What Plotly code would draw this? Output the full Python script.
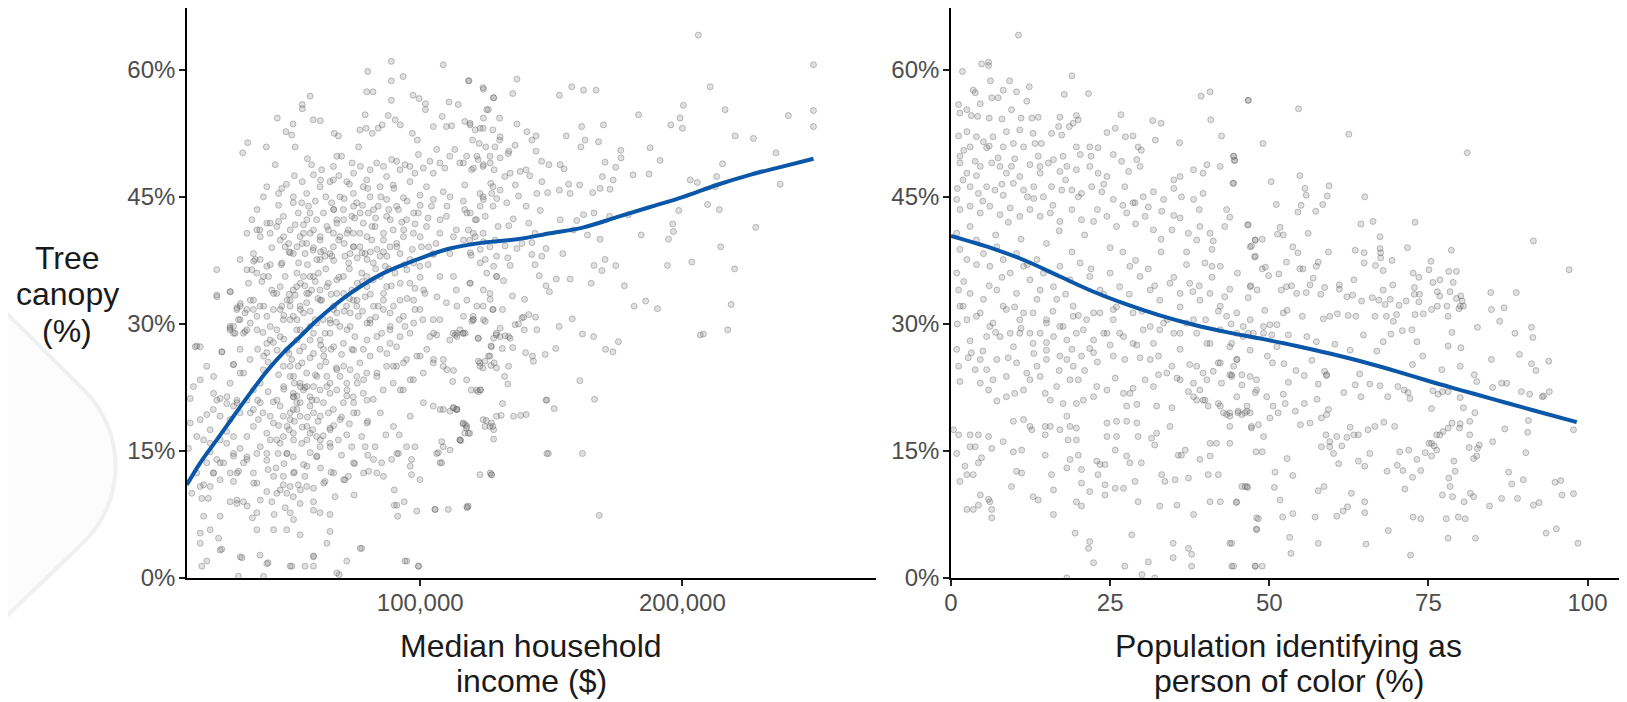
import plotly.graph_objects as go

# ---------------- DATA ----------------
# Left panel: (median household income in $1000s, tree canopy %)
income_points = [
 (89,61),(108.8,60.6),(80,59.8),(89,58.7),(93.5,59.2),(118.6,58.7),(58,56.9),(55,55.9),(55,55.4),(79.6,57.4),
 (82,57.4),(89,56.4),(97.3,57),(99.6,56.6),(102,56),(102,55.3),(111,56.2),(114.5,55.9),(124,57.9),(128,56.7),
 (126,55.3),(45.5,54.3),(59.2,54.1),(61.9,54),(51.5,53.6),(34.2,51.4),(32.3,50.2),(41.3,50.9),(48.8,52.7),(51,52.3),
 (52.3,50.9),(67.2,52.5),(68.8,52.2),(79,54.7),(87.8,54.6),(90.5,54.1),(77,52.9),(79.4,53.1),(81.7,52.5),(84,53.1),
 (85.5,53.5),(92.4,53.5),(97,52.5),(98.9,51.7),(105,53.3),(108.4,54.5),(110,53.3),(112,53.4),(117,53.9),(119,53.5),
 (121,52.9),(124,53.1),(120,51.7),(122.5,51.3),(125,50.9),
 (44.7,48.8),(46,45.4),(47.2,46.0),(51.6,45.0),(54.8,44.3),(56.7,45.4),(58.6,48.8),(59.3,47.6),(62.4,48.2),(65.6,46.8),
 (66.9,48.6),(68.2,49.8),(70,49.8),(74,49),(74.6,47.8),(76.5,50.9),(77.2,48.6),(79.6,47),(80.9,48.2),(83.4,49),
 (86,48.6),(87.2,47.4),(89.1,49.4),(91,49.2),(92.3,48.2),(94.2,48.8),(96.1,48.6),(98,47.8),(99.3,50),(101.2,48.4),
 (103.7,49.2),(105,47.8),(106.3,50.6),(107.5,49),(109.4,48.4),(111.3,49.8),(113.2,50.6),(115.1,49),(117.7,49.8),(119.6,48.2),
 (122.1,49.4),(124,48.6),(126.6,49.8),(128.5,50.9),(66.9,47),(72,46.8),(78.3,46.2),(84.7,46.2),(89.7,46.4),(96.1,46.8),
 (102.4,46.2),(108.8,45.6),(117,46.4),(122.8,45.4),(127.8,46.2),(61.8,46.2),(69.4,45.0),(74.5,45.4),(80.9,45),(87.2,44.7),
 (93.6,44.9),(99.9,45.2),(105,44.7),(111.4,45),(124,45),
 (37.7,41.1),(39,40.3),(41.5,41.9),(42.8,40.7),(43.4,39),(45.3,41.5),(46.6,39.9),(47.8,42.7),(48.5,39.1),(50.4,41.1),
 (51.6,44.3),(51.6,38.3),(53.5,43.1),(54.2,40.3),(55.5,41.7),(56.1,38.3),(57.4,43.9),(58,40.7),(59.3,39),(60.5,42.3),
 (61.8,39.9),(63.1,43.1),(63.7,38),(65,41.1),(66.2,44.3),(66.9,39.1),(68.2,42.3),(69.4,40.3),(70.7,43.5),(71.3,38),
 (72.6,41.1),(73.9,42.7),(74.5,39.1),(75.8,44.3),(77,40.7),(78.3,41.9),(79,38.3),(80.2,43.1),(81.5,39.9),(82.8,41.5),
 (84,43.9),(84.7,38),(86,40.7),(87.2,42.7),(88.5,39.1),(89.7,41.1),(91,43.9),(92.3,38.3),(93.6,40.3),(94.8,42.3),
 (96.1,37.6),(97.4,40.7),(99.3,43.1),(100.5,39.1),(102.4,41.5),(104.3,43.9),(104.9,38.3),(107.5,40.7),(110,42.7),(111.3,38.3),
 (113.8,41.1),(117,43.5),(118.9,39.9),(121.5,42.3),(124,40.7),(126.6,39.1),(127.8,43.9),(129.1,38),(56.7,39.5),(61.8,37.6),
 (65.6,38.3),(73.3,38.3),(82.1,37.2),(66.9,40.7),(77,39.1),(59.3,41.1),(74.5,40.7),
 (22.4,36.4),(22.4,33.4),(27.5,33.8),(30.1,31.9),(31.3,32.1),(27.5,29.5),(28.8,28.9),(33.2,29.1),(35.2,30.1),(37.1,37.6),
 (37.7,36),(40.2,35.6),(41.5,36.8),(43.4,34),(45.3,33.6),(47.2,32.1),(48.5,35.6),(50.4,32.8),(51.6,30.9),(52.9,34.4),
 (54.2,29.3),(55.5,35.6),(56.7,32.5),(58.6,34),(59.9,30.5),(61.2,36),(62.4,32.8),(63.7,28.9),(65,34.8),(66.9,31.7),
 (68.2,33.6),(69.4,29.7),(70.7,35.6),(71.9,32.1),(73.9,34),(75.1,28.5),(76.4,30.9),(77.7,36),(79,33.2),(80.9,30.1),
 (82.1,35.2),(84,32.1),(85.3,28.9),(87.2,34.4),(88.5,31.3),(90.4,36),(92.3,32.8),(94.2,29.7),(96.1,34.8),(98,31.7),
 (99.9,36.8),(101.8,33.6),(105,30.5),(107.5,35.6),(110,32.5),(113.8,34),(115.1,29.3),(118.9,34.8),(120.2,30.9),(124,32.1),
 (126.6,33.6),(129.1,28.9),(129.1,35.6),(51.6,34),(54.2,32.1),(56.7,33.6),(59.3,28.9),(61.8,34),(65.6,30.5),(58,35.6),
 (74.5,32.8),(79.6,35.6),
 (14.8,27.4),(24.3,26.7),(28.8,25.2),(31.3,24.2),(27.5,23),(23.7,21.2),(18.6,19.3),(12.3,18.3),(12.3,21.2),(19.9,17.5),
 (26.2,17.3),(28.8,16.7),(23.7,16.3),(17.4,16.3),(11.6,15.3),(19.9,14.9),(22.4,14),(21.1,12.4),(17.4,11),(12.9,10),
 (16.7,9.4),(19.2,9.4),(17.4,7.3),(16.1,5.3),(19.9,5.7),(23.1,4.7),(16.1,4.1),(24.3,3.4),(18.6,2),(16.7,1.4),
 (27.5,12.4),(28.8,11.4),(30.7,12.6),(32.6,13.6),(27.5,9.0),(30.1,9.2),(32.6,9.0),(34,8.5),(36,7.1),(37.7,5.7),
 (32,2.4),(38.9,2.7),(42,1.8),(30.7,0.2),(40.2,0.2),
 (33.9,21),(36.4,22.2),(39,23),(40.2,24.6),(41.5,26.6),(42.8,28.1),(45.3,29.3),(36.4,19.9),(38.3,18.7),(36.4,17.9),
 (41.5,17.1),(39,15.5),(37.7,14.7),(33.9,14.3),(41.5,13.9),(36.4,12.4),(37.7,11.2),(41.5,10.2),(43.4,9),(45.3,10),
 (47.8,11),(49.1,10),(51.6,9.6),(54.2,8.8),(59.3,9),(48.5,8.3),(50.4,7.7),(44.3,7.5),(49.1,5.7),(54.2,5.1),
 (59.3,2.6),(56.1,1.4),(51,1.4),(59.3,1.4),(61.8,7.7),(65.6,7.5),(65.6,5.5),(64.4,4.1),(69.1,0.4),(72,2),
 (77.7,3.5),(94.2,2),(99.3,1.4),(91.4,7.3),(93.9,9),(90.1,8.6),(98.7,7.9),(105.6,8.1),(110.7,8.1),(118.3,8.5),
 (90.1,10.4),(99.9,11.6),(96.7,12.2),(98,15.5),(94.8,15.5),(96.7,14),(91.7,14.7),(89.1,14),(85.3,13.6),(80.3,12.6),
 (83.5,12.4),(72.6,12),(71.3,11.6),(74.8,9.8),(67.5,9.6),(63.7,11.4),(59.3,10.6),(56.7,10.8),(53.5,11),(50.4,10.8),
 (47.8,12),(45.8,14.7),(49.1,14.7),(51.6,14.3),(55.5,13.4),(60.5,14.3),(61.8,15.5),(65.6,15.9),(68.8,16.3),(72,16.9),
 (77.7,16.7),(86.9,16.9),(92,16.9),(82.8,15.5),(79,15.5),(73.9,15.5),(65.6,17.7),(60.5,16.7),(58,17.1),(54.8,15.9),
 (51.6,17.1),(47.8,16.7),(45.3,16.3),(44,18.3),(47.8,19.1),(51.6,19.9),(54.2,20.7),(58,21.4),(61.8,22.2),(65.6,23),
 (69.4,23.8),(73.3,24.6),(77,25.4),(80.9,26.2),(84.7,27),(88.5,27.7),(92.3,28.5),(51.6,21.4),(54.2,19.1),(59.3,19.5),
 (63.1,20.7),(66.9,19.9),(70.7,20.7),(74.5,21.4),(78.3,21.8),(82.1,21.1),(85.9,22.2),(89.7,23),(93.5,22.2),(97.4,23.4),
 (101.2,24.2),(105,25.4),(108.8,25.8),(101.2,20.7),(105,20.3),(108.8,19.9),(113.9,19.9),(112.6,20.1),(116.4,18.3),(118.9,17.1),
 (108.8,15.5),(106.3,14.7),(108.2,13.6),(115.1,16.3),(121.5,22.2),(124,18.7),(122.8,12.2),(126.6,17.9),(129.1,19.1),
 (47.8,25),(50.4,23.8),(51.6,21.8),(54.2,23),(56.7,24.2),(59.3,22.6),(61.8,25),(64.4,23.8),(50.4,19.5),(52.9,20.7),
 (55.5,22.2),(58,20.3),(51,25.8),(53.5,25),(60.5,21.0),(65.6,21.8),(68.2,22.2),(72,23),(75.8,23.8),(79.6,24.2),
 (83.5,23.8),(87.2,25),(91,25),(94.8,25.8),(98.7,26.2),(102.5,27),
 (38.9,32.1),(41.5,30.9),(44,31.7),(47.8,30.5),(50.4,32.1),(52.9,29.3),(55.5,31.3),(58,28.1),(60.5,30.1),(63.1,27),
 (65.6,28.9),(68.2,31.3),(70.7,27.7),(73.3,29.7),(75.8,32.1),(78.3,27),(80.9,30.5),(83.5,28.5),(86,31.7),(88.5,29.3),
 (91,27.3),(93.6,30.9),(96.1,28.9),(99.9,31.7),(103.7,28.5),(107.5,30.5),(111.3,28.1),(116.4,28.9),(120.2,30.5),(122.8,25.4),
 (126.6,26.2),(130.4,28.5),(127.8,31.7),(93.6,25.4),(108.8,25),(117.7,23.4),
 (206.1,64.1),(250,60.6),(210.6,58),(216.3,55.3),(200.4,55.8),(199.1,54.3),(200,53.1),(195.6,53.5),(183.3,54.7),(250,55.2),
 (250,53.3),(240.4,54.6),(220.1,52.2),(227.1,51.9),(235.7,50.2),(237.3,46.5),(118.4,58.7),(136.9,58.9),(124.1,57.7),(135.3,57.2),
 (128,56.7),(153.1,57),(157.8,58),(162.3,57.6),(167.1,57.6),(125.4,55.3),(130.3,54.3),(136.9,53.6),(124.1,54.3),(119,53.7),
 (122.9,53.1),(127.7,52.9),(140.7,52.7),(144.2,52.2),(130.5,52.1),(136.2,51.1),(133.8,50.4),(155.7,52.2),(161.6,53.3),(169.9,53.5),
 (168,51.5),(162.9,51.7),(161.3,50.9),(176.5,50.5),(187.7,50.8),(191.5,49.3),(170.5,49.1),(176.6,49.6),(174.6,48.5),(181.2,47.6),
 (187.3,47.7),(169.5,47.4),(173.6,47),(172.4,45.9),(168.6,46),(165.8,45.5),(153.1,45.8),(156.6,46.5),(160.8,46.4),(157.2,45.4),
 (162.3,42.9),(159.7,42.2),(153.4,42.3),(158.5,41.1),(163.8,40.5),(168.6,40),(166.3,43.1),(172.2,42.7),(179.4,42.9),(184.3,40.5),
 (194.7,40),(196.6,40.9),(196.3,41.8),(198.6,43.4),(203,47),(205.7,46.7),(213.1,47.4),(215.3,48.9),(209.6,44.1),(214.1,43.5),
 (212.5,46.2),(228,41.4),(214.6,39.1),(203.6,37.3),(194.3,36.9),(219.9,36.5),(218.6,32.3),(217.3,29.3),(208,28.8),(190.5,31.8),
 (186,32.7),(181.6,32.1),(177.9,34.5),(174.6,36.9),(170.5,37.6),(166.3,36.9),(169.3,36.3),(165.2,34.8),(154.4,38.3),(148,38.9),
 (146.4,38),(142.6,38.2),(143.8,37),(145.4,35.7),(148,34.5),(149.3,33.8),(151.9,35.3),(157.2,35.3),(153,29.7),(158,30.6),
 (161.9,28.8),(166.1,28.5),(175.6,27.9),(141.4,31.1),(139.8,32.9),(135.2,33.3),(131.8,35.1),(133.4,37.8),(134.3,36.9),(128,36.8),
 (124.8,37.6),(119.4,38.1),(121,40.3),(124.1,39.7),(128.6,39.9),(132.4,39.2),(136.9,38.9),(138.8,39.5),(142.6,39.6),(143.8,40.7),
 (141.4,41.9),(135.5,42.4),(133.8,41.6),(129.7,41.5),(124.8,42.7),(121,42.3),(119.1,43.1),(116.5,44.5),(124.1,44.7),(127.3,45.4),
 (130.5,45.8),(137.5,45.1),(140.4,43.9),(145.8,43.4),(144.5,45.4),(148.6,45.5),(146.4,46.8),(141.8,47.5),(138.1,48),(134.3,47.8),
 (132.3,47.4),(128.2,48.2),(124.1,48.8),(120.3,48.4),(116.5,49),(121.6,49.8),(126.7,49),(130.5,49.6),(133.6,50.1),(144.2,50.4),
 (149.1,48.8),(153.4,48.8),(154.9,48.3),(146.3,49.2),(140.4,48.2),(142.6,51.7),(130.3,51.7),(136.3,46.4),(126.9,46.6),(129.2,44.8),
 (133,44.3),(122.9,43.9),(118.4,41.1),(116.5,39.9),(119.1,38.4),(122.9,37.2),(125.4,36),(129.2,35.6),(119.1,34.8),(124.1,34),
 (126.7,32.9),(121.6,32.1),(116.5,30.9),(124.1,30.5),(130.5,29.5),(128,28.3),(133.7,28.5),(114,28.5),(117.2,28.9),(138.8,30.7),
 (136.2,29.9),(144.5,29.3),
 (119.7,30.3),(124.8,30.3),(127.7,31.7),(131.4,31.7),(114,32.1),(113.3,28.7),(122.2,28.3),(127,27.4),(129,28.7),(132.4,28.6),
 (134.3,28.3),(131.3,27.1),(135.3,27.2),(139.4,30.8),(144,30.8),(137.5,30),(139.7,29.3),(140.2,26.6),(142.8,26.2),(143.2,25.6),
 (147.7,26.4),(151.7,27.1),(170.7,27),(173.5,26.7),(206.8,28.7),(122.2,25.6),(123.9,24.8),(127,25.1),(128.2,25.4),(133.7,25),
 (126.1,26.2),(112.7,24.5),(132.2,23.8),(133.4,22.9),(123,22.2),(148,21.0),(151.1,20),(160.9,23.3),(166.5,21.1),(131.4,20.6),
 (130.9,19.2),(138.3,19.2),(140.4,19.3),(125.2,18.6),(127.7,17.9),(117.2,18.1),(118.4,17.1),(115.5,16.2),(128,16.4),(111.4,19.7),
 (114,19.9),(148.9,14.7),(161.9,14.7),(127.2,12.2),(118,8.3),(168.3,7.4),(111.4,15.1),
 (106.3,28.7),(112.6,28.9),(116.4,28.9),(122.1,28.3),(127.2,27.3),(124.7,25.6),(122.8,25),(129.1,24.8),(112.4,23.2),(119.5,22.2),
 (122.1,22),(127.2,18.3),(124.7,17.9),(117,17.1),(115.2,16.3),(108.2,16.1),(106.9,14.8),(107.6,13.6),(116.3,18.2),(117.6,17.7),
 (127.2,12.2),
 (27.5,29.7),(29.4,28.9),(31.3,30.5),(33.9,29.3),(36.4,31.7),(31.3,27),(35.1,25.8),(30.1,31.7),(33.2,31.3),
 (13.5,22.6),(16.1,23.4),(18.6,25),(21.2,23.8),(22.4,21),(26.2,20.6),(28.8,20.3),(31.3,19.5),(30.1,21),(27.5,18.7),
 (23.7,19.1),(21.1,19.9),(16.1,18.7),(14.8,16.7),(19.9,15.9),(26.2,15.9),(31.3,15.3),(33.9,16.7),(28.8,14.4),(23.7,13.6),
 (18.6,13.6),(14.8,12.4),(23.7,11.6),(19.9,10.8),
 (31.3,37.6),(33.9,36.4),(36.4,38.3),(34.5,34.8),(36.4,32.8),(30.7,30.5),(33.9,31.7),(27.5,29.3),(16.1,27.3),(33.9,40.7),
 (35.8,42.3),(37.8,43.5),(40.2,45.0),(41.5,46.2),
 (46,44),(49,46.5),(52,47.5),(55,46.8),(57,49.5),(60,44.5),(62,47),(64,45),(67,43.5),(69,47.5),
 (71,44.8),(73,46.5),(75,42.5),(78,44),(80,46),(83,42.5),(85,45),(88,43.5),(90,46),(93,42),
 (95,44.5),(98,41.8),(100,44),(103,42.5),
 (47,37),(50,38.5),(53,36),(55,39.5),(57,37),(60,35),(62,38.5),(64,36.5),(67,37.5),(69,35.5),
 (71,39.5),(73,36.5),(76,37.8),(78,35),(81,38.5),(83,36.5),(86,38.5),(88,36.5),(91,39.5),(94,37),
 (97,38.8),(100,35.5),(103,37),(106,39.5),
 (48,31),(50,33.5),(53,30.5),(56,34.5),(58,31.5),(61,33),(63,30.5),(66,33.5),(68,30.2),(71,31.5),
 (73,33),(76,34.8),(78,31.5),(81,33.5),(83,30.8),(86,32.8),(89,34.5),(92,30.5),(95,33),(98,34.2),
 (101,30.5),
 (38,27),(40,29),(42,25.5),(44,27.8),(46,24),(48,28.2),(50,26.5),(52,23),(54,26.8),(56,22.5),
 (58,26),(60,24),(62,27.5),(64,25.5),(66,27),(68,24.8),(70,26.4),(72,21.5),(74,27),(76,23),
 (38,21),(40,19.5),(42,22),(44,20.8),(46,18),(48,22.3),(50,17.5),(52,18.5),(53,21.5),(55,17.8),
 (57,19),(59,17.5),(61,18.5),(63,16.8),(65,19.5),(67,18),(70,19),(73,18.2),(76,19.5),(80,18.5),
 (42,12.8),(45,13),(48,13.5),(52,12.5),(56,12),(58,14.8),(62,13),(66,12.5),(70,14.5),(75,13.5),
 (80,14.5),
 (42.8,41.9),(46,42.1),(38.8,41.1),(36.5,37.4),(39,37.6),(42.8,37),(47.3,37.2),(49.8,39.5),(52.3,41.7),(55.5,40.7),
 (56.8,42.3),(59.1,38.7),(61.9,40.3),(64.4,41.5),(67,43.5),(68.9,39.9),(70.8,42.3),(72.1,40.7),(74.6,39.1),(77.1,43.1),
 (79.7,40.3),(81.6,41.5),(83.5,38.8),(86,39.9),(88.6,42.3),(91.1,39.1),(93.7,41.1),(97.5,43.1),(100,40.3),(103.2,39.1),
 (107.6,42.3),(110.2,43.9),(112.7,40.3),(117.8,43.1),(120.3,40.7),(122.9,38.8),(50.4,38.4),(53.6,37.2),(60.6,37.6),(66.3,38),
 (72.7,37.2),(79.7,37.6),(86.7,36.8),(97.5,37.2),(105.1,38.2),
 (22.5,33.2),(27.6,33.8),(31.4,32.4),(35.2,32.8),(37.7,30.9),(35.8,36.4),(39.6,35),(42.2,35.6),(44.1,33.6),(46.6,34.4),
 (49.2,32.8),(46.6,31.7),(52.3,33.4),(54.3,34.8),(57.4,33.6),(59.3,35.6),(61.9,32.8),(64.4,34.4),(67,32.1),(70.8,33.6),
 (73.3,31.3),(75.9,32.8),(79.7,34.4),(82.2,32.1),(86,33.6),(89.8,32.1),(92.4,34.8),(97.5,32.8),(101.3,34),(106.4,33.2),
 (112.7,35.6),(117.8,32.8),(28.8,29.7),(32.6,28.9),(37.7,29.3),(42.8,29.7),(50.4,30.5),(58,29.7),(65.7,30.1),(72.1,29.3),
 (79.7,30.1),(88.6,29.7),(97.5,30.1),(105.1,28.9),(114,28.9),(120.3,30.5),(40.3,32.1),(54.3,31.7),(68.2,35.2),(84.8,35.6),
 (94.9,36.4),
 (14.2,27.3),(24.4,26.7),(28.8,25.2),(32.6,24.2),(40.3,26.2),(41.5,27.7),(45.4,26.9),(50.4,25),(51.7,23.8),(54.9,25.4),
 (56.8,22.6),(58.7,21),(60.6,23.8),(63.2,26.2),(64.4,22.6),(68.2,24.6),(70.8,25),(72.1,22.2),(74.6,20.7),(78.4,23.4),
 (79.7,21),(83.5,24.2),(87.3,26.5),(89.8,25),(92.4,22.2),(96.2,23.4),(100,26.2),(105.1,25.8),(110.2,24.6),(114,19.9),
 (117.8,17.9),(21.2,21.8),(26.3,21.4),(30.1,20.7),(35.2,19.5),(39,20.7),(42.8,19.1),(46.6,20.3),(50.4,18.7),(53,19.9),
 (56.8,17.9),(61.9,19.1),(65.7,17.5),(69.5,18.7),(74.6,19.5),(79.7,18.3),(84.8,19.5),(89.8,17.9),(96.2,19.1),(107.6,19.9),
 (112.7,20.1),(128,17.5),(122.9,22.2),(148.3,21),(135.6,19.1),
 (16.1,10.8),(21.2,12.4),(25,13.6),(28.8,14.7),(30.1,12.4),(33.9,14),(36.5,11.2),(39,9.2),(41.5,14.7),(44.1,12),
 (46.6,10.4),(49.2,14.7),(51.7,12.4),(54.3,10.4),(56.8,13.2),(60.6,14.4),(63.2,11.2),(67,12.4),(70.8,11.6),(74.6,13.6),
 (78.4,12.4),(82.2,14),(86,12),(91.1,14.7),(96.2,13.2),(23.7,7.3),(30.1,8.8),(37.7,7.7),(44.1,5.7),(51.7,6.9),
 (59.3,8),(23.7,3.3),(31.4,2.5),(41.5,1.7),(50.4,1.4),(59.3,2.5),(68.2,0.6),(77.1,3.5),(94.9,2),(99.4,1.4),
 (91.1,8.6),(105.7,8.1),(117.8,8.4),(126.7,12.4),(148.3,14.7),
 (47.9,40.3),(53,39.1),(58,43.1),(63.2,38.7),(68.2,41.9),(74.6,43.9),(77.8,38.4),(82.2,43.5),(87.3,38),(91.7,43.5),
 (46.6,28.5),(49.2,26.9),(53,28.1),(55.5,27.3),(59.3,26.5),(61.9,28.1),(67,27.3),(74.6,26.9),(79.7,28.1),(51.7,21.4),
 (54.3,22.6),(47.9,22.6),(45.4,21),(49.2,17.9),(51.7,16.3),(56.8,16.3),(61.9,16.3),(65.7,15.5),(46.6,15.9),(42.8,16.3),
]

# Left panel smooth fit: income ($1000s), canopy %
fit_income = [11, 16.1, 22.4, 28.8, 35.1, 41.5, 47.8, 54.2, 60.5, 73.3, 86, 98.7, 111.3, 124,
              136.9, 149.6, 162.3, 175, 187.7, 200.4, 213.1, 225.8, 238.5, 250]
fit_income_canopy = [11.0, 13.6, 16.3, 19.1, 21.8, 24.4, 26.6, 28.5, 30.4, 33.6, 36.0, 37.6, 38.9, 39.6,
                     40.0, 40.7, 41.4, 42.6, 43.8, 45.0, 46.4, 47.6, 48.6, 49.5]

# Right panel: (population identifying as person of color %, tree canopy %)
poc_points = [
 (10.6,64.1),(4.8,60.7),(5.9,60.9),(5.9,60.5),(1.8,59.8),(6.2,58.7),(9.2,58.7),(19,59.3),(3.5,57.6),(3.8,57.3),
 (8.2,57.6),(10.3,57.4),(12.3,58),(17.8,57.1),(21.6,57.2),(1.2,55.9),(1.4,54.9),(2.5,55.3),(4.6,56),(6.4,56.7),
 (7.4,56.7),(11.9,56.3),(9.5,55.3),(3.2,54.6),(4.2,54.5),(6,54.3),(8,54.2),(11,54.3),(12.7,54.3),(13.7,54.4),
 (17.1,54.4),(19.7,54.6),(20,54.1),(26.7,54.7),(31.7,54),(33,53.7),(39.3,56.9),(40.7,57.4),(40.8,54.1),(46.7,56.4),
 (16.9,53.3),(18.6,53.3),(19.2,53.7),(24.5,52.6),(25.8,53.1),(27.4,52.1),(28.6,52.2),(32.1,51.7),(35.9,51.4),(42.5,52.2),
 (1.2,52.2),(2.5,52.7),(4.0,52.1),(5.1,51.5),(6.6,52.1),(8.7,52.7),(10.8,52.9),(12.9,52.5),(14.2,51.3),(15.8,52.5),
 (17.4,52.3),(19.7,50.9),(21.8,50.9),(23.1,50.8),(25.5,50),(29.4,50.9),(29.9,50.5),(13.7,49.8),(16.1,49.4),(17.6,49.8),
 (20.3,50),(8.2,50.9),(9.8,51.3),(11.4,50.9),(13.2,51.3),(5.6,50.8),(3,50.9),(1.4,49.8),(1.4,49),(2.5,47.8),
 (3.8,49.2),(4.6,48.6),(6.4,49),(7.4,49.6),(7.7,48.6),(8.7,47.8),(9.5,48.6),(10.8,47.4),(12.4,48.8),(14,47.8),
 (15.3,49),(17.1,48),(18.2,48.6),(19.7,48.2),(21.8,48.6),(23.1,47.8),(24.5,47.4),(26.8,49.2),(27.9,48),(29.2,49.4),
 (29.7,48.6),(35,47),(36,47.4),(38.1,48.2),(39.6,47.8),(40.2,48.8),(42.3,48.6),(44.4,49.8),(44.6,49.3),(44.4,46.6),
 (43.3,43.5),(46.7,41.7),(47,39.1),(47.8,39.9),(47.8,38),(47,34.4),(46.7,33.1),(47.5,28.9),
 (1.9,47),(3,46.2),(4.3,45.4),(5.6,46.2),(6.9,45.8),(8.2,45.2),(9.8,46.6),(11.4,45.8),(13,46.2),(14.5,45),
 (15.8,46.2),(17.4,45.8),(19,45.8),(20.5,45.4),(22.1,46.2),(23.7,45.6),(25.5,44.7),(27.3,46.2),(28.6,44.3),(30.2,45),
 (31.8,45.6),(33.4,44.7),(35,46),(36.2,45),(38.1,44.7),(39.6,45.4),(0.9,44.7),(1.4,43.5),(3,43.9),(4.6,43.1),
 (6.1,43.9),(7.7,42.9),(9.3,43.7),(10.8,42.7),(12.4,43.5),(14,42.7),(15.6,43.1),(17.1,42.1),(19,43.5),(20.5,42.3),
 (22.4,42.1),(24.5,42.7),(26,41.5),(27.6,43.1),(28.9,44.3),(30.5,42.7),(31.8,41.1),(33.1,43.3),(34.7,41.1),(36,42.5),
 (37.3,40.7),(39.1,41.5),(40.7,40.7),(38.6,39.9),(41.2,39.8),(39.9,37.2),(41,36.8),(42.3,36.8),
 (0.9,40.7),(1.4,38.8),(2.5,37.6),(4,39.9),(5.1,38.3),(6.1,36.8),(7.2,39.1),(8.2,37.6),(9.3,36),(10.3,38.3),
 (11.4,36.8),(12.4,35.2),(13.5,37.6),(14.5,36),(16.1,34.4),(17.1,36.8),(18.7,35.2),(20.3,37.2),(21.8,35.6),(23.4,34),
 (25,36),(26.5,34.4),(28.1,36.8),(29.7,35.6),(31.3,34),(32.8,32.8),(34.4,34.8),(36,33.6),(37.5,34.8),(39.1,32.8),
 (40.7,33.6),(42.3,32.1),(43.3,30.9),(44.9,28.9),(0.9,36),(1.2,34),(1.9,32.1),(3,33.6),(4,30.9),(5.1,32.9),
 (6.1,29.7),(7.2,34),(8.2,32.1),(9.3,28.9),(10.3,33.6),(11.4,31.3),(12.4,28.9),(13.5,32.9),(15,30.5),(16.6,32.9),
 (17.6,29.7),(19.2,32.1),(20.8,29.3),(22.4,31.3),(24,28.9),(25.5,30.5),(27.1,28.5),(28.6,31.3),(30.2,29.3),(31.8,27.7),
 (33.4,30.1),(35,28.9),(37,30.1),(38.6,28.9),(40.2,27.7),(42.3,29.3),(43.8,27.3),(45.9,28.5),
 (0.9,27),(1.2,25),(1.4,23.2),(2.7,26),(3.8,24.6),(4.6,23),(5.9,22.2),(6.6,23.4),(7.2,20.9),(8.7,21.4),
 (10,21.8),(11.4,22.2),(12.4,23.4),(14,23.8),(14.8,21.8),(15.6,21.0),(16.6,22.6),(17.6,20.6),(18.7,23.4),(19.7,20.6),
 (20,23.4),(20.8,21.0),(22.4,21.4),(22.9,22.6),(24.5,22.2),(25.8,23.6),(27.1,21.8),(28.1,21.8),(28.6,22.4),(27.6,20.3),
 (29.2,20.5),(30.5,23.4),(31.8,22.6),(32.6,24),(32.3,20.3),(33.9,24.2),(34.7,20.1),(35.5,23.6),(36,23.4),(37.3,22),
 (38.1,21.4),(38.6,21),(39.6,21),(40.4,20.3),(42,20.6),(42.8,19.5),(43.3,19.3),(43.8,19.5),(45.1,19.5),(46.5,19.7),
 (47.2,17.9),(48,22.2),(43.8,24),(44.1,23.8),(42.5,23),(42,25.4),(41.2,24.4),(40.2,23.4),(39.1,22.2),(39.6,24.2),
 (38.1,23),(38.6,25),(37.5,25.2),(36,27),(34.7,25),(32.6,26.2),(31.3,25.8),(29.7,26),(28.6,27.7),(29.2,27.5),
 (27.3,25.8),(25.5,26.2),(22.4,26.6),(20.5,26.2),(21.8,27.1),(17.1,26.2),(18.2,25.8),(19.2,25),(15,25.8),(13.5,25),
 (11.9,24.2),(10.3,25.4),(8.7,23.8),(7.2,25.8),(5.6,24.6),(4.6,25.8),(3.2,26.6),(9.8,27.3),(12.9,27.7),(15,26.9),
 (16.1,28.5),(18.2,28.1),(19.7,28.9),(22.4,28.1),(24.5,28.9),(26.5,28.9),(25.5,31.7),(23.4,31.3),(21.3,30.5),(19.2,30.9),
 (17.1,29.7),(15,30.1),(12.9,31.3),(10.8,30.5),(8.7,31.7),(6.6,30.1),(4.6,31.3),(2.5,30.5),(1.4,32.1),(5.6,28.5),
 (7.7,28.5),(10.8,28.9),(14,28.9),(31.3,29.7),(32.8,29.3),(36,28.9),(38.1,30.5),(40.7,27.7),(42.3,25.4),(44.9,25.8),
 (47,26.9),(48,23.4),
 (0.4,17.5),(1.2,16.9),(0.9,14.7),(1.4,11.4),(2.2,13.2),(2.5,12.2),(3.5,12.2),(3,15.5),(3.8,15.5),(3,16.9),
 (4.3,16.9),(4.3,13.6),(4.8,14.2),(5.9,16.7),(6.4,15.3),(4.6,9.8),(4.3,8.6),(2.5,8.1),(3.5,8.1),(6.1,9),
 (6.4,8.1),(6.4,7.1),(5.9,9.3),(8.2,16.1),(9.8,14.9),(10.3,12.6),(11.1,12.4),(11.1,15.1),(9.8,18.5),(11.4,18.7),
 (12.4,17.9),(12.7,17.5),(9.5,10.8),(12.9,9.6),(13.7,9.2),(14.8,17.9),(14.8,14.5),(15.8,12.2),(16.1,10.4),(16.1,7.5),
 (14.8,16.9),(15.6,17.9),(17.1,17.5),(18.2,19.1),(18.7,17.9),(19.7,17.7),(18.4,16.3),(19.7,16.3),(18.2,13),(18.7,14),
 (20,14.5),(20.5,12.8),(20.5,11.2),(19.7,9),(20.5,8.5),(19.5,5.3),(21.8,4.3),(21.6,3.5),(22.4,1.8),(18.2,0),
 (22.9,13.8),(23.4,13.4),(24.2,13.4),(23.1,12.2),(24.2,11),(21.8,10.2),(24.2,9.8),(25.8,10.6),(27.1,10.6),(25.8,15.1),
 (24.5,16.7),(26,16.7),(24.5,18.3),(26,18.5),(27.6,18.5),(27.6,14.4),(28.1,13.6),(29.4,16.7),(29.2,18.3),(29.9,13.6),
 (28.9,11.4),(29.4,9.0),(28.4,5.1),(27.3,1.4),(31,1.9),(30,0.4),(32,0),(31.5,16.5),(32,15.7),(32.3,17.1),
 (33.1,12.2),(33.6,11.4),(32.8,8.5),(34.4,17.9),(35.2,11.6),(35.5,8.6),(35.7,14.5),(36.2,14.5),(34.9,4.1),(34.9,2.4),
 (37.8,2.8),(37.8,1.4),(37.3,3.5),(36.8,15.1),(37.3,11.8),(38.1,7.5),(39.1,14),(40.7,14.4),(40.7,15.9),(41.7,15.9),
 (40.4,12.2),(42,12.2),(40.7,9),(42.3,9),(43.8,15.9),(44.9,9),(43.8,4.1),(44.1,1.4),(45.7,10.8),(46.5,10.8),
 (48,5.7),(48,7.1),(47.8,1.4),(39.9,21),(42.3,20.3),(43.8,19.1),(45.7,19.3),
 (46.7,56.4),(54.6,55.4),(62.5,52.4),(49,51.3),(44.4,49.8),(44.5,49.3),(81.1,50.2),(44.3,46.6),(50.3,46.8),(54.8,47.5),
 (55.6,46),(55.8,45.2),(59.4,46.3),(59.1,45.1),(65,45),(51.1,44.1),(55,44),(54.5,43.2),(57.3,43.3),(58.4,44.1),
 (43.8,42.6),(46.6,41.7),(51.7,41.4),(51.3,40.6),(52.2,40.5),(56.1,40.7),(64.4,41.8),(66.3,42.1),(72.9,42),(91.5,39.8),
 (47.8,39.9),(47.2,39.2),(48.9,40),(53.7,39.1),(54.5,38.4),(59.3,38.5),(63.5,38.7),(64.9,38.4),(67.4,40.3),(67.4,38.9),
 (67.5,38.4),(67.5,37.8),(71.7,39),(78.6,38.7),(47.7,37.9),(52.7,37.3),(48.9,36.5),(49.4,36.7),(49.9,35.7),(51.5,35.9),
 (54.8,36.5),(55.3,36.5),(57.4,36.8),(57.7,37.3),(56.9,35.4),(56.4,34.6),(58.7,34.3),(61,34.6),(61,34.1),(63.3,35.2),
 (64.9,37.2),(66.7,36.9),(67.9,36.3),(69.3,37.5),(72.6,36),(73.5,35.5),(75.1,36.4),(75.4,37.4),(78.2,36.2),(79.4,36.2),
 (75.7,34.9),(76.8,35.2),(78.9,34.9),(47.1,34.5),(48.1,34),(43.8,34.1),(51.9,34),(52.7,34.4),(53.5,34.5),(54.3,33.6),
 (55.8,33.7),(58.1,33.5),(62.2,33.2),(63.1,33.4),(64.5,32.7),(66.2,33.1),(67.2,32.8),(67.9,34),(68.2,32.3),(69,32.9),
 (69.4,34.6),(70.4,32.2),(71.5,32.7),(72.8,33.5),(73.6,33.5),(72.8,34.3),(73.5,32.6),(76.4,33.8),(76.8,33.3),(78.4,33.8),
 (79.4,33),(80.1,33.3),(80.3,32.7),(80.5,32.1),(79.8,31.8),(84.8,33.7),(88.8,33.7),(97.1,36.4),
 (44.9,31.3),(45.9,29.7),(47,30.5),(49.1,29.7),(50.1,29.9),(51.2,29.9),(52.2,31.3),(49.3,31.6),(52.8,31.6),(55.2,30.9),
 (58.5,30.6),(59.5,30.9),(60.7,31.2),(62.4,31),(63.6,30.9),(66.6,30.9),(68.4,30.9),(69.5,30.3),(70,31.1),(70.9,29.2),
 (72.4,29.3),(72.9,31.1),(74.2,31.2),(75.5,31.7),(76.4,32.1),(77.9,32.1),(80,32.1),(78.1,30.9),(78.7,29),(84.9,31.7),
 (86.9,31.9),(86.2,30.3),(82.7,29.6),(88.6,28.9),(91.2,29.6),(91.4,28.4),(49.1,28.9),(50.4,28.7),(46.7,28.9),(51.2,27.3),
 (53,28.7),(55.9,28.5),(57.4,27.9),(60.3,27.6),(64.8,28.7),(67.9,27.9),(69.1,28.8),(73.2,27.9),(78.1,27.4),(80.1,27.2),
 (44.9,25.8),(49.7,26.2),(50.5,25.4),(52.3,25.3),(54.2,24.5),(56.7,25.7),(58.7,24.4),(59.0,24),(62.7,26.9),(64.2,24.1),
 (66.9,26.8),(72.5,25.2),(74.1,26.2),(77.1,24.6),(80,25),(84.9,25.8),(89.3,26.4),(91.2,25.3),(91.9,24.5),(93.9,25.6),
 (44.1,24),(45.7,22.8),(47.8,21.9),(49.6,21.4),(52.2,21.7),(53,23.1),(55.5,23.9),(57.7,22.9),(59,23.9),(57.5,21.1),
 (61.7,21.9),(63.5,22.8),(64.4,21.4),(65.8,22.9),(67.4,22.7),(68.6,21.4),(70.2,22.6),(71.2,22.2),(71.8,21.9),(72.1,21.2),
 (75.7,22.1),(76.5,21.7),(77.2,22),(78.1,22),(80,21.3),(80.5,20.1),(82.2,24),(82.6,23.2),(82.3,19.5),(85.1,22.5),
 (86.5,23),(87.3,23),(89.6,22),(90.9,21.7),(93.1,21.5),(94,22),(75.5,20),(43.8,17.9),(45.1,19.7),(46.2,19.5),
 (47,19.5),(50.6,20.3),(51.4,19.5),(50.1,18.9),(52.5,20.6),(54.1,19.7),(55.5,20.6),(56.4,18.3),(54.9,18.1),(58.2,18.9),
 (59.3,19.9),(59,19.3),(47.2,17.7),(48.3,18.1),(49.1,16.7),(47.9,14.9),(48.9,14.9),(52.8,14.1),(50.9,12.5),(53.7,12.1),
 (50.8,10.7),(51.7,9.2),(53.7,7.6),(52.1,7.2),(57.2,7.2),(53.2,4.8),(53.4,2.9),(57.7,4.1),(48,5.8),(48.3,7),
 (47.8,1.4),(48.9,1.4),(44.4,1.4),(46.2,10.8),(46.6,10.7),(44.8,8.9),(44.1,4.1),(58.9,16.9),(59.5,16.1),(58.2,15.5),
 (59.5,15.5),(60.1,14.7),(61.4,15.6),(60.6,16.7),(62.2,16.6),(63.3,16.9),(64,16.9),(62.7,17.8),(65.5,17.5),(66.6,17.9),
 (68,18.4),(69.7,17.9),(65.8,14.7),(64,13.8),(65,13.2),(60.9,13.5),(57.7,10.3),(58.6,10.8),(62.9,10),(65,9),
 (65,7.7),(60.6,7.3),(61.6,7.9),(62.3,8.4),(65.2,4.0),(68.7,5.6),(70.5,14.9),(71.9,15.1),(70.1,13.3),(71,12.7),
 (72.5,11.9),(73.8,12.7),(71.3,10.5),(68.5,12.6),(72.6,7.2),(73.8,7),(72.2,2.7),(73.2,14),(74.5,14.8),(75.1,15.9),
 (75.5,15.9),(75.9,15.6),(75.5,14.4),(76.3,16.9),(76.8,16.9),(76.3,15.1),(77.3,17.3),(78.1,17.7),(78.7,18.3),(80,18.2),
 (81.5,18.5),(79.9,17.7),(81.5,16.9),(81.4,15.4),(83,15.7),(82.7,15.3),(82.6,14.4),(82.1,14.1),(79,13.8),(79.2,12.6),
 (78.2,11.8),(78.4,10.8),(77.2,9.8),(78.8,9.6),(80.6,9.0),(81.6,10),(82.1,9.6),(77.8,7),(79.7,7.2),(80.8,7.0),
 (78.1,4.7),(82.4,4.7),(84.6,8.5),(86.5,9.4),(88.1,11.1),(87.6,12.5),(89,9.4),(89.9,11.6),(90.3,14.8),(90.6,17.2),
 (90.7,18.6),(87,17.6),(85.1,16.1),(91.5,8.6),(92.4,8.9),(93.5,5.3),(95.1,5.8),(94.9,11.3),(95.8,11.5),(96.0,9.8),
 (97.8,9.95),(97.8,17.5),(98.5,4.1),(92.9,21.4),(44.1,27.7),(44.4,25),(45.7,24),(47,23.8),(44.9,21.4),(46.5,20.3),
 (2,50.5),(4,47.5),(6,51),(8,46.5),(10,49.5),(12,45),(14,48.6),(16,44),(18,47),(20,45),
 (22,49.8),(24,46.5),(1,46),(3,41.5),(5,44.5),(7,40.5),(9,42),(11,40),(13,44.8),(15,39.5),
 (17,41),(19,38.5),(21,40.5),(23,43.5),(25,39),(2,35),(4,37),(6,34.5),(8,35.5),(10,32),
 (12,37),(14,34),(16,31.5),(18,33.5),(20,31),(22,36.5),(24,33.5),(26,32),(1,30),(3,28),
 (5,26.8),(7,29),(9,26),(11,29.5),(13,26.5),(15,27.8),(17,24.5),(19,27),(21,24.5),(23,25.5),
 (25,27.5),(27,44),(29,41.8),(31,43.8),(33,40),(35,42.8),(37,38.5),(39,43.5),(41,38.8),(43,41.5),
 (27,38.5),(29,37.5),(31,36.5),(33,38.5),(35,35.5),(37,37),(39,34.5),(41,35.5),(43,33.2),(45,36),
 (28,33.5),(30,31.5),(32,34.5),(34,30.5),(36,32),(38,33.8),(40,30.5),(42,31.5),(44,30),
]

# Right panel smooth fit
fit_poc = [0, 6.6, 11.9, 17.1, 22.4, 27.6, 32.8, 38.1, 43.5, 49.1, 54.3, 59.5, 64.8, 70, 75.3, 80.5, 85.7, 91, 98.3]
fit_poc_canopy = [40.4, 38.9, 37.4, 35.6, 33.8, 32.3, 31.0, 29.9, 29.0, 28.2, 27.4, 26.5, 25.5, 24.4, 23.2, 22.1, 21.0, 19.9, 18.4]

income_ticks = [100000, 200000]
income_tick_text = ["100,000", "200,000"]
poc_ticks = [0, 25, 50, 75, 100]
canopy_ticks = [0, 15, 30, 45, 60]
canopy_tick_text = ["0%", "15%", "30%", "45%", "60%"]

# ---------------- FIGURE ----------------
# The page body adds an 8px offset; the figure is sized so it ends at the window edge,
# and the layout is designed in page pixels.
OFF = 8
PAGE_W, PAGE_H = 1627, 702
W, H = PAGE_W - OFF, PAGE_H - OFF
PLOT_LEFT, PLOT_TOP, PLOT_BOTTOM, PLOT_RIGHT = 187, 8, 578, 1627   # page pixels
ML = PLOT_LEFT - OFF
MT = PLOT_TOP - OFF
MB = H - (PLOT_BOTTOM - OFF)
MR = W - (PLOT_RIGHT - OFF)
PW, PH = W - ML - MR, H - MT - MB

def px(x):
    return (x - PLOT_LEFT) / PW

def py(y):
    return (PLOT_BOTTOM - y) / PH

FONT = "Liberation Sans, Arial, Helvetica, sans-serif"
POINT = dict(size=6, color="rgba(115,115,115,0.22)",
             line=dict(width=1, color="rgba(90,90,90,0.36)"))
LINE_COLOR = "#0a56a8"

fig = go.Figure()
fig.add_trace(go.Scatter(x=[p[0] * 1000 for p in income_points], y=[p[1] for p in income_points],
                         mode="markers", marker=POINT, xaxis="x", yaxis="y", hoverinfo="skip"))
fig.add_trace(go.Scatter(x=[v * 1000 for v in fit_income], y=fit_income_canopy, mode="lines",
                         line=dict(color=LINE_COLOR, width=4, shape="spline"), xaxis="x", yaxis="y"))
fig.add_trace(go.Scatter(x=[p[0] for p in poc_points], y=[p[1] for p in poc_points],
                         mode="markers", marker=POINT, xaxis="x2", yaxis="y2", hoverinfo="skip"))
fig.add_trace(go.Scatter(x=fit_poc, y=fit_poc_canopy, mode="lines",
                         line=dict(color=LINE_COLOR, width=4, shape="spline"), xaxis="x2", yaxis="y2"))

axis_common = dict(showline=True, linecolor="black", linewidth=1.6, ticks="outside", ticklen=6,
                   tickwidth=1.5, tickcolor="#222", showgrid=False, zeroline=False,
                   tickfont=dict(family=FONT, size=24, color="#4d4d4d"))

fig.update_layout(
    width=W, height=H, margin=dict(l=ML, r=MR, t=MT, b=MB, autoexpand=False),
    paper_bgcolor="white", plot_bgcolor="white", showlegend=False,
    font=dict(family=FONT),
    xaxis=dict(domain=[0, px(876)], range=[11055, 273850], tickvals=income_ticks,
               ticktext=income_tick_text, anchor="y", ticklabelstandoff=-4, **axis_common),
    yaxis=dict(domain=[0, 1], range=[0, 67.3], tickvals=canopy_ticks, ticktext=canopy_tick_text,
               anchor="x", ticklabelstandoff=-1, **axis_common),
    xaxis2=dict(domain=[px(951), 1], range=[0, 106.2], tickvals=poc_ticks, anchor="y2",
                ticklabelstandoff=-4, **axis_common),
    yaxis2=dict(domain=[0, 1], range=[0, 67.3], tickvals=canopy_ticks, ticktext=canopy_tick_text,
                anchor="x2", ticklabelstandoff=-1, **axis_common),
)

TITLE_FONT = dict(family=FONT, size=32, color="#1a1a1a")
annots = [
    ("Tree", 67, 258), ("canopy", 67, 294), ("(%)", 67, 331),
    ("Median household", 531.3, 646), ("income ($)", 531.3, 681),
    ("Population identifying as", 1288.9, 646), ("person of color (%)", 1288.9, 681),
]
for text, x, y in annots:
    fig.add_annotation(text=text, x=px(x), y=py(y), xref="paper", yref="paper",
                       xanchor="center", yanchor="middle", showarrow=False, font=TITLE_FONT)

# faint watermark outline at the left edge (rounded corner of a large rotated square)
def pt(a, b):
    return f"{px(a):.5f},{py(b):.5f}"

path = ("M " + pt(-30, 277) + " L " + pt(84, 390) + " C " + pt(127, 433) + " " + pt(126, 502) +
        " " + pt(82, 544) + " L " + pt(-30, 651) + " Z")
fig.add_shape(type="path", path=path, xref="paper", yref="paper",
              line=dict(color="#f0f0f0", width=4), fillcolor="rgba(0,0,0,0.012)", layer="below")

fig.write_html("out.html")
